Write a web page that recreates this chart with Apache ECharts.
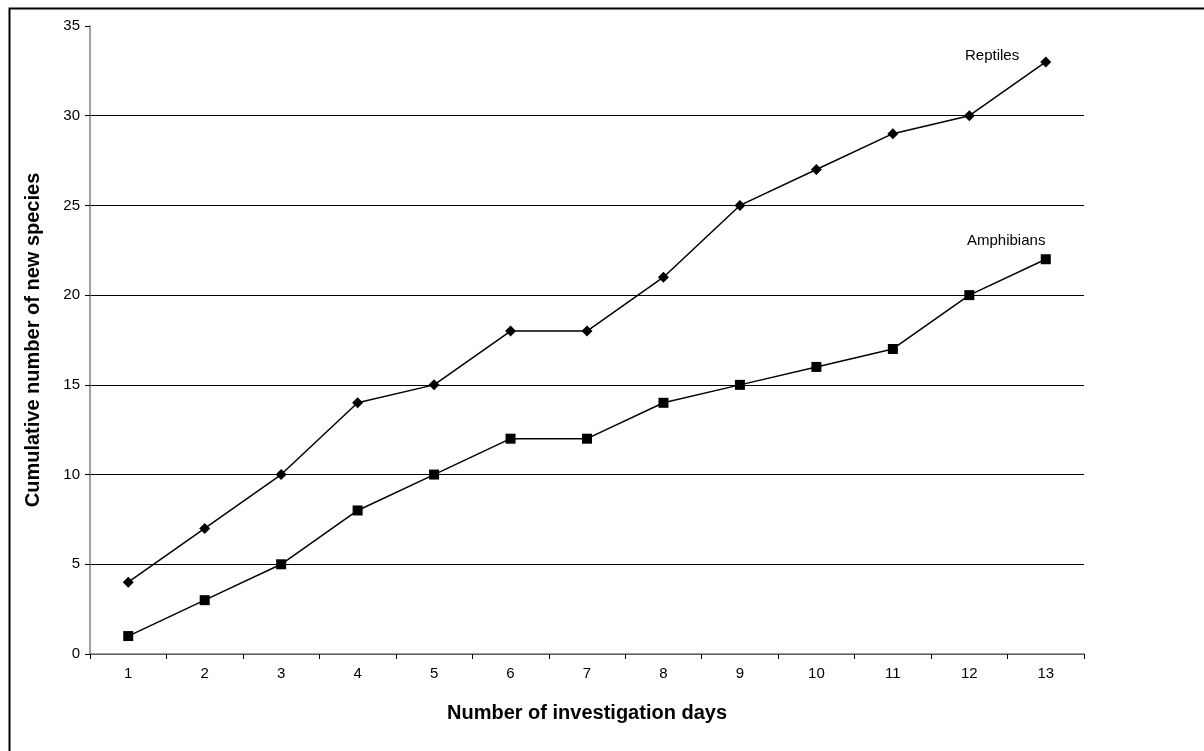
<!DOCTYPE html>
<html><head><meta charset="utf-8">
<script src="https://cdn.jsdelivr.net/npm/echarts@6/dist/echarts.min.js"></script>
<style>html,body{margin:0;padding:0;background:#fff}#c{width:1204px;height:751px}</style>
</head><body><div id="c"></div>
<script>
const days = ['1','2','3','4','5','6','7','8','9','10','11','12','13'];
const reptiles = [4,7,10,14,15,18,18,21,25,27,29,30,33];
const amphibians = [1,3,5,8,10,12,12,14,15,16,17,20,22];
const yTitle = 'Cumulative number of new species';
const xTitle = 'Number of investigation days';

const chart = echarts.init(document.getElementById('c'), null, {renderer:'canvas'});
const font = '"Liberation Sans", Arial, sans-serif';
chart.setOption({
  animation:false,
  backgroundColor:'#fff',
  grid:{left:90, right:120, top:26, bottom:97},
  xAxis:{type:'category', data:days, boundaryGap:true,
    name:xTitle, nameLocation:'middle', nameGap:49,
    nameTextStyle:{fontFamily:font, fontSize:20, fontWeight:'bold', color:'#000'},
    axisLine:{lineStyle:{color:'#808080', width:1.5}},
    axisTick:{show:true, alignWithLabel:false, length:5, lineStyle:{color:'#000'}},
    axisLabel:{fontFamily:font, fontSize:15, color:'#000', margin:12},
    splitLine:{show:false}},
  yAxis:{type:'value', min:0, max:35, interval:5,
    name:yTitle, nameLocation:'middle', nameGap:47, nameRotate:90,
    nameTextStyle:{fontFamily:font, fontSize:20, fontWeight:'bold', color:'#000'},
    axisLine:{show:true, lineStyle:{color:'#808080', width:1.5}},
    axisTick:{show:true, length:5, lineStyle:{color:'#000'}},
    axisLabel:{fontFamily:font, fontSize:15, color:'#000', margin:10},
    splitLine:{show:true, lineStyle:{color:['#000','#000','#000','#000','#000','#000','#000','rgba(0,0,0,0)'], width:1}}},
  series:[
    {name:'Reptiles', type:'line', data:reptiles, symbol:'diamond', symbolSize:11,
     itemStyle:{color:'#000'}, lineStyle:{color:'#000', width:1.5}},
    {name:'Amphibians', type:'line', data:amphibians, symbol:'rect', symbolSize:10,
     itemStyle:{color:'#000'}, lineStyle:{color:'#000', width:1.5}}
  ],
  graphic:[
    {type:'rect', left:7, top:6, shape:{width:1300, height:900}, style:{fill:'none', stroke:'#000', lineWidth:2}, z:100},
    {type:'text', x:965, y:56, style:{text:'Reptiles', font:'15px '+font, fill:'#000', textAlign:'left', textVerticalAlign:'middle'}},
    {type:'text', x:967, y:241, style:{text:'Amphibians', font:'15px '+font, fill:'#000', textAlign:'left', textVerticalAlign:'middle'}}
  ]
});
</script></body></html>
